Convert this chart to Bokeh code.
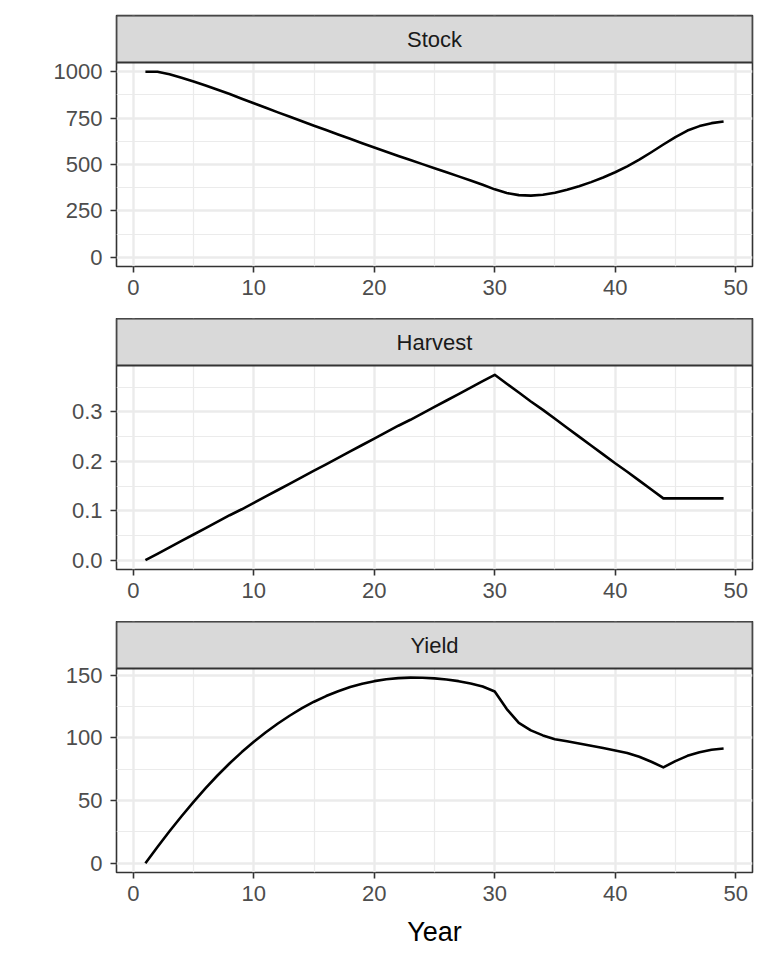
from bokeh.plotting import figure
from bokeh.layouts import column
from bokeh.models import FixedTicker, PrintfTickFormatter, Range1d
from bokeh.embed import file_html
from bokeh.resources import INLINE
from bokeh.core.properties import value

years = list(range(1, 50))
stock = [1000, 1000, 987, 968, 948, 926, 903, 880, 855, 830,
         806, 781, 757, 733, 709, 686, 662, 639, 615, 592,
         569, 546, 524, 502, 480, 458, 436, 414, 391, 366,
         346, 335, 332, 337, 348, 364, 383, 405, 430, 458,
         490, 526, 566, 608, 648, 683, 707, 723, 732]
harvest = [0.000, 0.013, 0.026, 0.039, 0.052, 0.065, 0.078, 0.091, 0.103, 0.116,
           0.129, 0.142, 0.155, 0.168, 0.181, 0.194, 0.207, 0.220, 0.233, 0.246,
           0.259, 0.272, 0.284, 0.297, 0.310, 0.323, 0.336, 0.349, 0.362, 0.375,
           0.357, 0.339, 0.321, 0.304, 0.286, 0.268, 0.250, 0.232, 0.214, 0.196,
           0.179, 0.161, 0.143, 0.125, 0.125, 0.125, 0.125, 0.125, 0.125]
yield_vals = [0, 13, 25.5, 37.5, 49, 59.9, 70.2, 79.8, 88.7, 96.9,
              104.5, 111.5, 117.9, 123.7, 128.9, 133.4, 137.3, 140.6, 143.3, 145.3,
              146.8, 147.7, 148.1, 148.0, 147.5, 146.6, 145.3, 143.5, 141, 137,
              123, 112, 106, 102, 99, 97.3, 95.5, 93.8, 92, 90,
              88, 85, 81, 76.5, 81.5, 85.7, 88.6, 90.5, 91.5]

panel_titles = ["Stock", "Harvest", "Yield"]
x_ticks = [0, 10, 20, 30, 40, 50]
x_minor = [5, 15, 25, 35, 45]
y_ticks = [[0, 250, 500, 750, 1000], [0.0, 0.1, 0.2, 0.3], [0, 50, 100, 150]]
y_minor = [[125, 375, 625, 875], [0.05, 0.15, 0.25, 0.35], [25, 75, 125]]
y_ranges = [(-50, 1050), (-0.01875, 0.39375), (-7.4, 155.4)]
series = [stock, harvest, yield_vals]

FONT = "Liberation Sans"
LEFT = 116
RIGHT = 12
PANEL_H = 204
STRIP_H = 47
X0, X1 = -1.4, 51.4


def facet(i, top, bottom, xlabel=None):
    lo, hi = y_ranges[i]
    strip_top = hi + (hi - lo) * STRIP_H / PANEL_H
    p = figure(frame_width=636, frame_height=PANEL_H + STRIP_H, x_range=Range1d(X0, X1),
               y_range=Range1d(lo, strip_top), toolbar_location=None, output_backend="svg",
               min_border_left=LEFT, min_border_right=RIGHT, min_border_top=top,
               min_border_bottom=bottom)
    p.outline_line_color = "#333333"
    p.outline_line_width = 1.6
    p.xaxis.ticker = FixedTicker(ticks=x_ticks, minor_ticks=x_minor)
    p.yaxis.ticker = FixedTicker(ticks=y_ticks[i], minor_ticks=y_minor[i])
    if i == 1:
        p.yaxis.formatter = PrintfTickFormatter(format="%.1f")
    for ax in (p.xaxis, p.yaxis):
        ax.axis_line_color = None
        ax.major_tick_line_color = "#333333"
        ax.major_tick_line_width = 1.6
        ax.major_tick_out = 6
        ax.major_tick_in = 0
        ax.minor_tick_line_color = None
        ax.major_label_text_font = FONT
        ax.major_label_text_font_size = "22px"
        ax.major_label_text_color = "#4D4D4D"
    p.xaxis.major_label_standoff = 7
    p.yaxis.major_label_standoff = 8
    for g in (p.xgrid, p.ygrid):
        g.grid_line_color = "#EBEBEB"
        g.grid_line_width = 2.4
        g.minor_grid_line_color = "#EBEBEB"
        g.minor_grid_line_width = 1.2
    if xlabel:
        p.xaxis.axis_label = xlabel
        p.xaxis.axis_label_text_font = FONT
        p.xaxis.axis_label_text_font_size = "27px"
        p.xaxis.axis_label_text_font_style = "normal"
        p.xaxis.axis_label_text_color = "#000000"
        p.xaxis.axis_label_standoff = 13
    p.line(years, series[i], line_color="black", line_width=2.6, line_join="round")
    # facet strip
    p.quad(left=[X0], right=[X1], bottom=[hi], top=[strip_top],
           fill_color="#D9D9D9", line_color="#333333", line_width=1.8)
    p.text(x=[(X0 + X1) / 2], y=[(hi + strip_top) / 2], text=[panel_titles[i]],
           text_align="center", text_baseline="middle",
           text_font=value(FONT), text_font_size="22px", text_color="#1A1A1A")
    return p


items = [
    facet(0, 15, 52),
    facet(1, 0, 52),
    facet(2, 0, 76, "Year"),
]
layout = column(*items, spacing=0)
open("out.html", "w").write(file_html(layout, INLINE))
